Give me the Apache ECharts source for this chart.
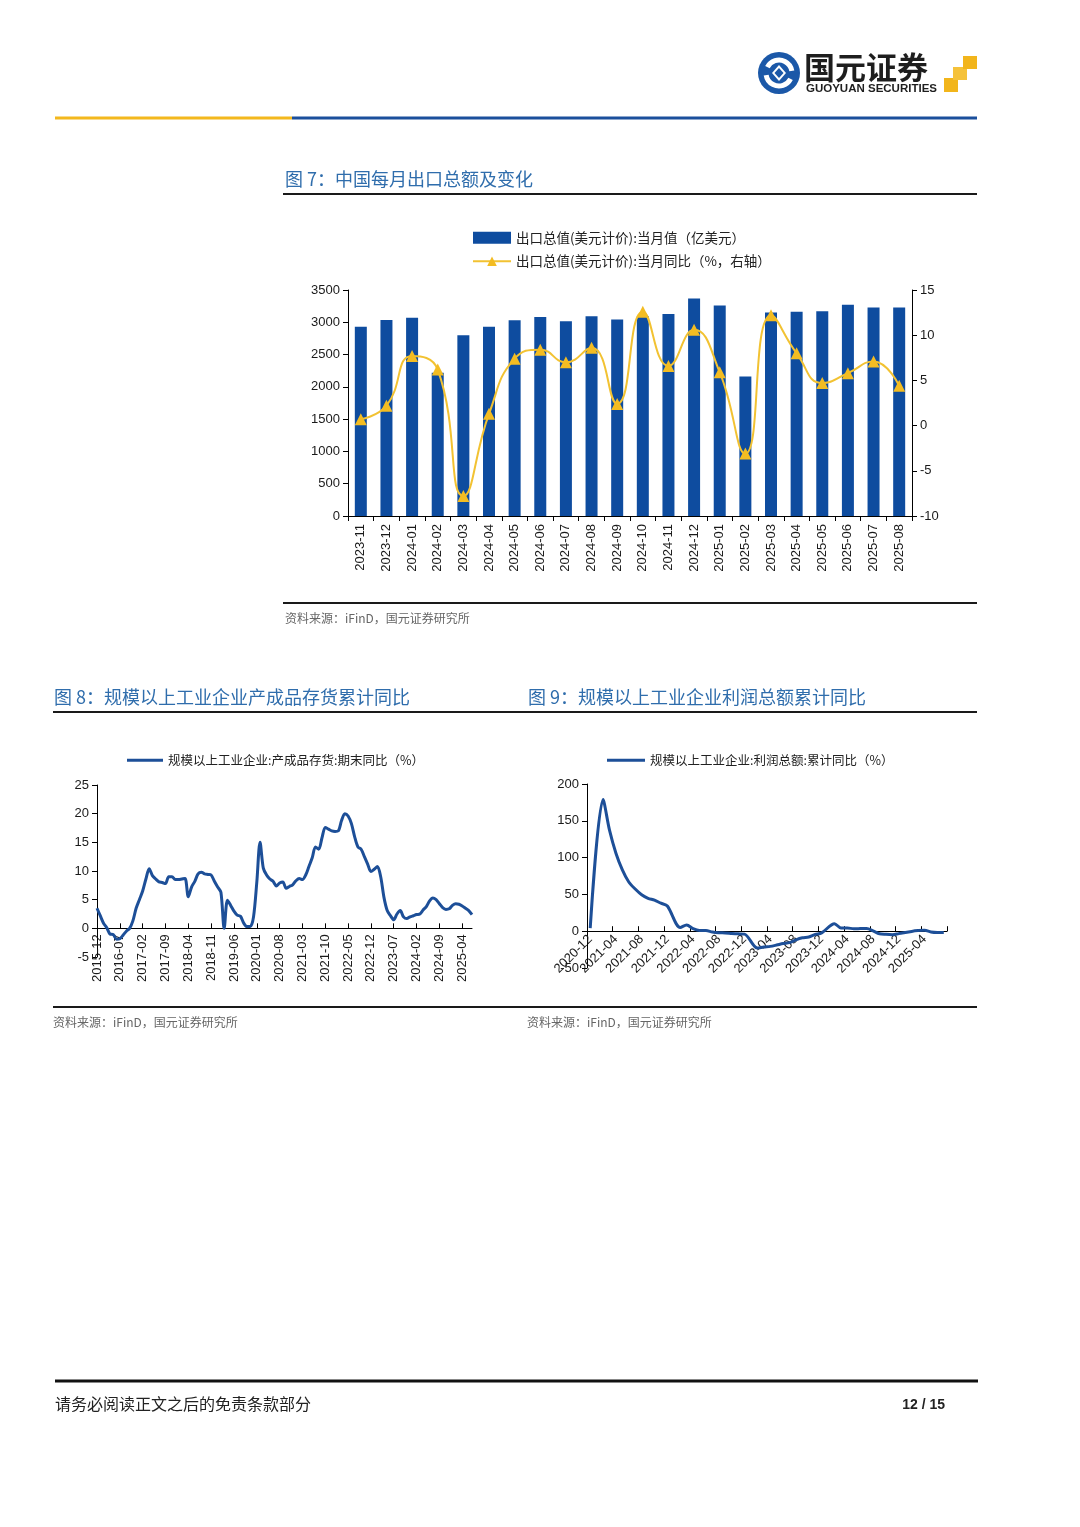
<!DOCTYPE html>
<html><head><meta charset="utf-8">
<script src="https://cdn.jsdelivr.net/npm/echarts@6/dist/echarts.min.js"></script>
<style>html,body{margin:0;padding:0;background:#fff}#c{width:1080px;height:1527px}</style>
</head><body><div id="c"></div>
<script>
// ---------- Figure 7: monthly exports ----------
const exportMonths = ['2023-11','2023-12','2024-01','2024-02','2024-03','2024-04','2024-05','2024-06','2024-07','2024-08','2024-09','2024-10','2024-11','2024-12','2025-01','2025-02','2025-03','2025-04','2025-05','2025-06','2025-07','2025-08'];
const exportValue = [2930,3036,3070,2220,2800,2930,3030,3080,3015,3095,3045,3095,3130,3370,3260,2160,3150,3165,3170,3270,3230,3230];
const exportYoY = [0.7,2.2,7.7,6.2,-7.8,1.3,7.4,8.4,7.0,8.6,2.4,12.6,6.6,10.6,5.9,-3.1,12.2,8.0,4.7,5.8,7.1,4.4];

// ---------- Figure 8: finished goods inventory YoY ----------
const invMonths = ['2015-12',
'2016-01','2016-02','2016-03','2016-04','2016-05','2016-06','2016-07','2016-08','2016-09','2016-10','2016-11','2016-12',
'2017-01','2017-02','2017-03','2017-04','2017-05','2017-06','2017-07','2017-08','2017-09','2017-10','2017-11','2017-12',
'2018-01','2018-02','2018-03','2018-04','2018-05','2018-06','2018-07','2018-08','2018-09','2018-10','2018-11','2018-12',
'2019-01','2019-02','2019-03','2019-04','2019-05','2019-06','2019-07','2019-08','2019-09','2019-10','2019-11','2019-12',
'2020-01','2020-02','2020-03','2020-04','2020-05','2020-06','2020-07','2020-08','2020-09','2020-10','2020-11','2020-12',
'2021-01','2021-02','2021-03','2021-04','2021-05','2021-06','2021-07','2021-08','2021-09','2021-10','2021-11','2021-12',
'2022-01','2022-02','2022-03','2022-04','2022-05','2022-06','2022-07','2022-08','2022-09','2022-10','2022-11','2022-12',
'2023-01','2023-02','2023-03','2023-04','2023-05','2023-06','2023-07','2023-08','2023-09','2023-10','2023-11','2023-12',
'2024-01','2024-02','2024-03','2024-04','2024-05','2024-06','2024-07','2024-08','2024-09','2024-10','2024-11','2024-12',
'2025-01','2025-02','2025-03','2025-04','2025-05','2025-06','2025-07'];
const invValue = [3.5,
2.2,0.9,0.1,-1.0,-1.1,-1.9,-1.8,-1.2,-0.5,0.0,1.3,3.5,
5.0,6.5,8.6,10.4,9.2,8.6,8.1,8.0,7.8,9.0,9.0,8.5,
8.5,8.6,8.7,5.5,7.2,8.2,9.5,9.8,9.5,9.4,9.3,8.2,
7.2,6.3,0.0,4.9,4.0,3.0,2.3,2.1,0.9,0.3,0.3,2.0,
8.0,15.0,10.5,9.3,8.6,8.2,7.4,7.9,8.1,7.0,7.3,7.6,
8.3,8.7,8.5,9.3,10.8,12.3,14.2,13.8,15.8,17.6,17.3,17.0,
16.9,17.0,18.8,20.0,19.6,18.3,16.0,14.2,13.8,12.5,11.2,9.9,
10.3,10.8,9.0,5.4,3.1,2.2,1.5,2.5,3.1,2.0,1.7,2.0,
2.2,2.4,2.5,3.2,3.8,4.8,5.3,5.0,4.3,3.6,3.3,3.4,
4.0,4.3,4.2,3.9,3.5,3.1,2.4];

// ---------- Figure 9: industrial profit cumulative YoY ----------
const profitMonths = ['2020-12',
'2021-01','2021-02','2021-03','2021-04','2021-05','2021-06','2021-07','2021-08','2021-09','2021-10','2021-11','2021-12',
'2022-01','2022-02','2022-03','2022-04','2022-05','2022-06','2022-07','2022-08','2022-09','2022-10','2022-11','2022-12',
'2023-01','2023-02','2023-03','2023-04','2023-05','2023-06','2023-07','2023-08','2023-09','2023-10','2023-11','2023-12',
'2024-01','2024-02','2024-03','2024-04','2024-05','2024-06','2024-07','2024-08','2024-09','2024-10','2024-11','2024-12',
'2025-01','2025-02','2025-03','2025-04','2025-05','2025-06','2025-07'];
const profitValue = [4.1,
null,178.9,137.3,106.0,83.4,66.9,57.3,49.5,44.7,42.2,38.0,34.3,
null,5.0,8.5,3.5,1.0,1.0,-1.1,-2.1,-2.3,-3.0,-3.6,-4.0,
null,-22.9,-21.4,-20.6,-18.8,-16.8,-15.5,-11.7,-9.0,-7.8,-4.4,-2.3,
null,10.2,4.3,4.3,3.4,3.5,3.6,0.5,-3.5,-4.3,-4.7,-3.3,
null,-0.3,0.8,1.4,-1.1,-1.8,-1.7];

const exportBarName = '出口总值(美元计价):当月值（亿美元）';
const exportLineName = '出口总值(美元计价):当月同比（%，右轴）';
const invName = '规模以上工业企业:产成品存货:期末同比（%）';
const profitName = '规模以上工业企业:利润总额:累计同比（%）';

const NUM_FONT = 'Liberation Sans, Arial, sans-serif';
const CJK = '"Noto Sans CJK SC", sans-serif';
const BLUE = '#0E4C9F';
const LINEBLUE = '#1D4F98';
const GOLD = '#F3BC22';
const TITLE = '#2F6DAC';

const chart = echarts.init(document.getElementById('c'), null, {renderer: 'canvas'});

function axisLbl(extra) {
  return Object.assign({color: '#1a1a1a', fontSize: 13, fontFamily: NUM_FONT, formatter: function (v) { return String(v); }}, extra || {});
}
const blackLine = {show: true, onZero: false, lineStyle: {color: '#000', width: 1}};

function txt(x, y, text, font, fill, align) {
  return {type: 'text', x: x, y: y, silent: true,
    style: {text: text, font: font, fill: fill, align: align || 'left', verticalAlign: 'middle'}};
}
function hline(x1, x2, y, h, color) {
  return {type: 'rect', silent: true, shape: {x: x1, y: y - h / 2, width: x2 - x1, height: h}, style: {fill: color}};
}

const graphics = [
  hline(55, 292, 118, 3, '#F3B81D'),
  hline(292, 977, 118, 3, '#1B4F9C'),
  {type: 'circle', silent: true, shape: {cx: 779, cy: 73, r: 21}, style: {fill: '#1B58A8'}},
  {type: 'arc', silent: true, shape: {cx: 779, cy: 73, r: 13, startAngle: Math.PI * 0.15, endAngle: Math.PI * 0.95}, style: {stroke: '#fff', lineWidth: 5, fill: null}},
  {type: 'arc', silent: true, shape: {cx: 779, cy: 73, r: 13, startAngle: Math.PI * 1.15, endAngle: Math.PI * 1.95}, style: {stroke: '#fff', lineWidth: 5, fill: null}},
  {type: 'polygon', silent: true, shape: {points: [[779, 65], [786, 73], [779, 81], [772, 73]]}, style: {fill: '#fff'}},
  {type: 'polygon', silent: true, shape: {points: [[779, 68], [783.5, 73], [779, 78], [774.5, 73]]}, style: {fill: '#1B58A8'}},
  txt(804, 67, '国元证券', 'bold 31px ' + CJK, '#1e1e1e'),
  txt(806, 89, 'GUOYUAN SECURITIES', 'bold 11.5px ' + NUM_FONT, '#1e1e1e'),
  {type: 'rect', silent: true, shape: {x: 944, y: 78, width: 14, height: 14}, style: {fill: '#F2B51B'}},
  {type: 'rect', silent: true, shape: {x: 953, y: 67, width: 14, height: 13}, style: {fill: '#F5C23A'}},
  {type: 'rect', silent: true, shape: {x: 963, y: 56, width: 14, height: 13}, style: {fill: '#F2B51B'}},
  txt(285, 179, '图 7：中国每月出口总额及变化', '18px ' + CJK, TITLE),
  hline(283, 977, 194, 2, '#1a1a1a'),
  hline(283, 977, 603, 2, '#1a1a1a'),
  txt(285, 618, '资料来源：iFinD，国元证券研究所', '12px ' + CJK, '#666'),
  txt(54, 697, '图 8：规模以上工业企业产成品存货累计同比', '18px ' + CJK, TITLE),
  txt(528, 697, '图 9：规模以上工业企业利润总额累计同比', '18px ' + CJK, TITLE),
  hline(53, 977, 712, 2, '#1a1a1a'),
  hline(53, 977, 1007, 2, '#1a1a1a'),
  txt(53, 1022, '资料来源：iFinD，国元证券研究所', '12px ' + CJK, '#666'),
  txt(527, 1022, '资料来源：iFinD，国元证券研究所', '12px ' + CJK, '#666'),
  hline(55, 978, 1381, 3, '#111'),
  txt(55, 1404, '请务必阅读正文之后的免责条款部分', '16px ' + CJK, '#222'),
  txt(945, 1405, '12 / 15', 'bold 14px ' + NUM_FONT, '#222', 'right')
];

const option = {
  animation: false,
  backgroundColor: '#fff',
  graphic: {elements: graphics},
  legend: [
    {orient: 'vertical', left: 467, top: 226, itemGap: 10, itemWidth: 38, itemHeight: 12,
     data: [{name: exportBarName, icon: 'rect'}, {name: exportLineName}],
     textStyle: {fontSize: 13.5, fontFamily: CJK, color: '#222'}},
    {left: 122, top: 749, itemWidth: 36, itemHeight: 3, icon: 'rect',
     data: [invName], textStyle: {fontSize: 12.5, fontFamily: CJK, color: '#222'}},
    {left: 602, top: 749, itemWidth: 38, itemHeight: 3, icon: 'rect',
     data: [profitName], textStyle: {fontSize: 12.5, fontFamily: CJK, color: '#222'}}
  ],
  grid: [
    {left: 348, top: 290, width: 564, height: 226},
    {left: 97, top: 785, width: 375, height: 172},
    {left: 587, top: 784, width: 360, height: 184},
    {left: 97, top: 785, width: 375, height: 143.33},
    {left: 587, top: 784, width: 360, height: 147.2}
  ],
  xAxis: [
    {type: 'category', gridIndex: 0, data: exportMonths, boundaryGap: true,
     axisLine: blackLine, axisTick: {show: true, length: 5, interval: 0, lineStyle: {color: '#000'}},
     axisLabel: axisLbl({rotate: 90, interval: 0, margin: 8}), splitLine: {show: false}},
    {type: 'category', gridIndex: 1, data: invMonths, boundaryGap: false, show: false},
    {type: 'category', gridIndex: 2, data: profitMonths, boundaryGap: true, show: false},
    {type: 'category', gridIndex: 3, data: invMonths, boundaryGap: false,
     axisLine: blackLine, axisTick: {show: true, inside: true, length: 5, interval: 6, lineStyle: {color: '#000'}},
     axisLabel: axisLbl({rotate: 90, interval: 6, margin: 6}), splitLine: {show: false}},
    {type: 'category', gridIndex: 4, data: profitMonths, boundaryGap: true,
     axisLine: blackLine, axisTick: {show: true, inside: true, length: 5, interval: 3, lineStyle: {color: '#000'}},
     axisLabel: axisLbl({rotate: 45, interval: 3, margin: 6}), splitLine: {show: false}}
  ],
  yAxis: [
    {type: 'value', gridIndex: 0, min: 0, max: 3500, interval: 500,
     axisLine: blackLine, axisTick: {show: true, length: 5, lineStyle: {color: '#000'}},
     axisLabel: axisLbl({margin: 8}), splitLine: {show: false}},
    {type: 'value', gridIndex: 0, position: 'right', min: -10, max: 15, interval: 5,
     axisLine: blackLine, axisTick: {show: true, length: 5, lineStyle: {color: '#000'}},
     axisLabel: axisLbl({margin: 8}), splitLine: {show: false}},
    {type: 'value', gridIndex: 1, min: -5, max: 25, interval: 5,
     axisLine: blackLine, axisTick: {show: true, length: 5, lineStyle: {color: '#000'}},
     axisLabel: axisLbl({margin: 8}), splitLine: {show: false}},
    {type: 'value', gridIndex: 2, min: -50, max: 200, interval: 50,
     axisLine: blackLine, axisTick: {show: true, length: 5, lineStyle: {color: '#000'}},
     axisLabel: axisLbl({margin: 8}), splitLine: {show: false}},
    {type: 'value', gridIndex: 3, min: 0, max: 1, show: false},
    {type: 'value', gridIndex: 4, min: 0, max: 1, show: false}
  ],
  series: [
    {name: exportBarName, type: 'bar', xAxisIndex: 0, yAxisIndex: 0, data: exportValue,
     barWidth: 12, itemStyle: {color: BLUE}},
    {name: exportLineName, type: 'line', xAxisIndex: 0, yAxisIndex: 1, data: exportYoY,
     smooth: true, symbol: 'triangle', symbolSize: 12,
     lineStyle: {color: '#F2C232', width: 2}, itemStyle: {color: GOLD}},
    {name: invName, type: 'line', xAxisIndex: 1, yAxisIndex: 2, data: invValue,
     smooth: 0.3, showSymbol: false, lineStyle: {color: LINEBLUE, width: 3}, itemStyle: {color: LINEBLUE}},
    {name: profitName, type: 'line', xAxisIndex: 2, yAxisIndex: 3, data: profitValue,
     smooth: 0.3, connectNulls: true, showSymbol: false, lineStyle: {color: LINEBLUE, width: 3}, itemStyle: {color: LINEBLUE}}
  ]
};
chart.setOption(option);
</script>
</body></html>
